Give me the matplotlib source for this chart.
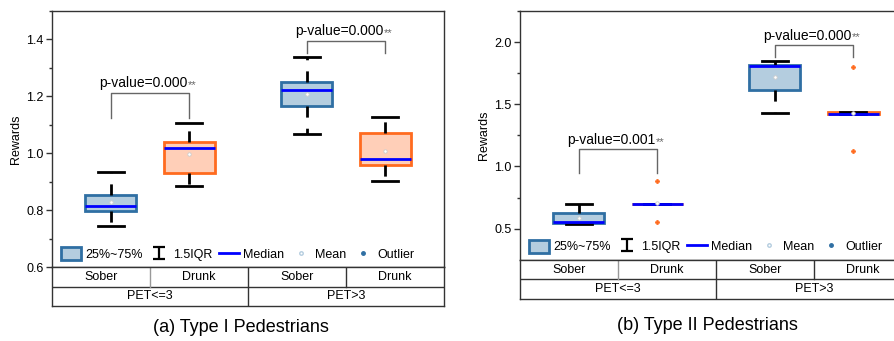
import numpy as np
import matplotlib.pyplot as plt
from matplotlib.path import Path
from matplotlib.patches import Patch
from matplotlib.lines import Line2D

plt.rcParams['font.family'] = ['Liberation Sans', 'DejaVu Sans']
plt.rcParams['font.size'] = 9

# DATA
positions = [0.6, 1.4, 2.6, 3.4]
conditions = ['Sober', 'Drunk', 'Sober', 'Drunk']
pet_groups = ['PET<=3', 'PET>3']

# (a) Type I Pedestrians
a_q1 = [0.798, 0.930, 1.168, 0.959]
a_med = [0.815, 1.020, 1.223, 0.980]
a_q3 = [0.854, 1.041, 1.250, 1.071]
a_lo = [0.746, 0.886, 1.069, 0.903]
a_hi = [0.933, 1.105, 1.338, 1.127]
a_mean = [0.830, 0.997, 1.208, 1.009]
a_fliers = [[], [], [], []]
a_pvals = ['p-value=0.000', 'p-value=0.000']
a_br_top = [1.213, 1.395]
a_br_leg = [[1.126, 1.126], [1.353, 1.353]]

# (b) Type II Pedestrians
b_q1 = [0.547, 0.697, 1.617, 1.422]
b_med = [0.550, 0.700, 1.810, 1.425]
b_q3 = [0.628, 0.700, 1.813, 1.440]
b_lo = [0.539, 0.695, 1.427, 1.420]
b_hi = [0.700, 0.700, 1.847, 1.440]
b_mean = [0.583, 0.705, 1.716, 1.432]
b_fliers = [[], [0.885, 0.553], [], [1.800, 1.124]]
b_pvals = ['p-value=0.001', 'p-value=0.000']
b_br_top = [1.137, 1.974]
b_br_leg = [[0.945, 0.945], [1.877, 1.877]]

# COLOURS
sober_fill = '#b4cddf'
sober_edge = '#2f6fa3'
drunk_fill = '#ffcfb8'
drunk_edge = '#ff6b1f'
frame_col = '#333333'

T_marker = Path([(-0.5, 0.5), (0.5, 0.5), (0, 0.5), (0, -0.5), (-0.5, -0.5), (0.5, -0.5)],
                [Path.MOVETO, Path.LINETO, Path.MOVETO, Path.LINETO, Path.MOVETO, Path.LINETO])


def make_stats(q1, med, q3, lo, hi, mean, fliers):
    out = []
    for i in range(len(q1)):
        out.append(dict(q1=q1[i], med=med[i], q3=q3[i], whislo=lo[i], whishi=hi[i],
                        mean=mean[i], fliers=fliers[i]))
    return out


def draw_panel(ax, tab, stats, ylim, major, minor, pvals, br_top, br_leg, title, title_x, title_y):
    bp = ax.bxp(stats, positions=positions, widths=0.52, capwidths=0.27,
                showmeans=True, patch_artist=True,
                boxprops=dict(linewidth=2),
                medianprops=dict(color='#0000ff', linewidth=2),
                whiskerprops=dict(color='black', linewidth=2, linestyle=(0, (4, 4))),
                capprops=dict(color='black', linewidth=2),
                meanprops=dict(marker='o', markersize=2.5, markerfacecolor='white',
                               markeredgecolor='#cccccc', markeredgewidth=0.6),
                flierprops=dict(marker='P', markersize=3, markerfacecolor=drunk_edge,
                                markeredgecolor=drunk_edge, markeredgewidth=0.5))
    for i, box in enumerate(bp['boxes']):
        if conditions[i] == 'Sober':
            box.set_facecolor(sober_fill)
            box.set_edgecolor(sober_edge)
        else:
            box.set_facecolor(drunk_fill)
            box.set_edgecolor(drunk_edge)

    # p-value brackets
    for k in range(2):
        x1, x2 = positions[2 * k], positions[2 * k + 1]
        ax.plot([x1, x1, x2, x2], [br_leg[k][0], br_top[k], br_top[k], br_leg[k][1]],
                color='#666666', lw=1)
        t = ax.annotate(pvals[k], xy=((x1 + x2) / 2 - 0.07, br_top[k]),
                        xytext=(0, 2), textcoords='offset points',
                        ha='center', va='bottom', fontsize=10)
        ax.annotate('**', xy=(1, 0), xycoords=t, xytext=(0.5, 0), textcoords='offset points',
                    ha='left', va='bottom', fontsize=8, color='#666666')

    ax.set_xlim(0, 4)
    ax.set_ylim(*ylim)
    ax.set_xticks([])
    ax.set_yticks(np.arange(major[0], major[1] + 1e-9, major[2]))
    ax.set_yticks(np.arange(minor[0], minor[1] + 1e-9, minor[2]), minor=True)
    ax.tick_params(axis='y', which='major', length=4, width=1, color=frame_col, labelsize=9, pad=2)
    ax.tick_params(axis='y', which='minor', length=2.5, width=1, color=frame_col)
    ax.set_ylabel('Rewards', fontsize=9, labelpad=3)
    for s in ax.spines.values():
        s.set_color(frame_col)
        s.set_linewidth(1)

    handles = [
        Patch(facecolor=sober_fill, edgecolor=sober_edge, linewidth=2, label='25%~75%'),
        Line2D([], [], ls='none', marker=T_marker, markersize=8, markeredgecolor='black',
               markeredgewidth=1.6, label='1.5IQR'),
        Line2D([], [], color='#0000ff', lw=2, label='Median'),
        Line2D([], [], ls='none', marker='o', markersize=2.5, markerfacecolor='white',
               markeredgecolor='#b4cddf', label='Mean'),
        Line2D([], [], ls='none', marker='o', markersize=2.5, color=sober_edge, label='Outlier'),
    ]
    ax.legend(handles=handles, ncol=5, loc='lower left', bbox_to_anchor=(0.0, -0.01),
              frameon=False, fontsize=9, handlelength=1.6, handleheight=1.2,
              handletextpad=0.35, columnspacing=0.5, borderaxespad=0.3)

    # category table below the axis
    tab.set_xlim(0, 4)
    tab.set_ylim(0, 2)
    tab.set_xticks([])
    tab.set_yticks([])
    for s in tab.spines.values():
        s.set_color(frame_col)
        s.set_linewidth(1)
    tab.axhline(1, color=frame_col, lw=1)
    tab.axvline(2, color=frame_col, lw=1)
    tab.plot([1, 1], [1, 2], color='#999999', lw=1)
    tab.plot([3, 3], [1, 2], color=frame_col, lw=1)
    for i, c in enumerate(conditions):
        tab.text(i + 0.5, 1.5, c, ha='center', va='center', fontsize=9)
    for j, g in enumerate(pet_groups):
        tab.text(2 * j + 1, 0.5, g, ha='center', va='center', fontsize=9)

    fig.text(title_x, title_y, title, ha='center', va='center', fontsize=13)


fig = plt.figure(figsize=(8.94, 3.41), dpi=100)

ax_a = fig.add_axes([52 / 894, 73.7 / 341, 392 / 894, 256.3 / 341])
tab_a = fig.add_axes([52 / 894, 35 / 341, 392 / 894, 38.7 / 341])
ax_b = fig.add_axes([520 / 894, 81.3 / 341, 392 / 894, 248.7 / 341])
tab_b = fig.add_axes([520 / 894, 42 / 341, 392 / 894, 39.3 / 341])

draw_panel(ax_a, tab_a, make_stats(a_q1, a_med, a_q3, a_lo, a_hi, a_mean, a_fliers),
           (0.6, 1.5), (0.6, 1.4, 0.2), (0.7, 1.5, 0.2), a_pvals, a_br_top, a_br_leg,
           '(a) Type I Pedestrians', 241 / 894, 13 / 341)
draw_panel(ax_b, tab_b, make_stats(b_q1, b_med, b_q3, b_lo, b_hi, b_mean, b_fliers),
           (0.25, 2.25), (0.5, 2.0, 0.5), (0.75, 2.25, 0.5), b_pvals, b_br_top, b_br_leg,
           '(b) Type II Pedestrians', 707 / 894, 16 / 341)

fig.savefig('out.png', dpi=100)
